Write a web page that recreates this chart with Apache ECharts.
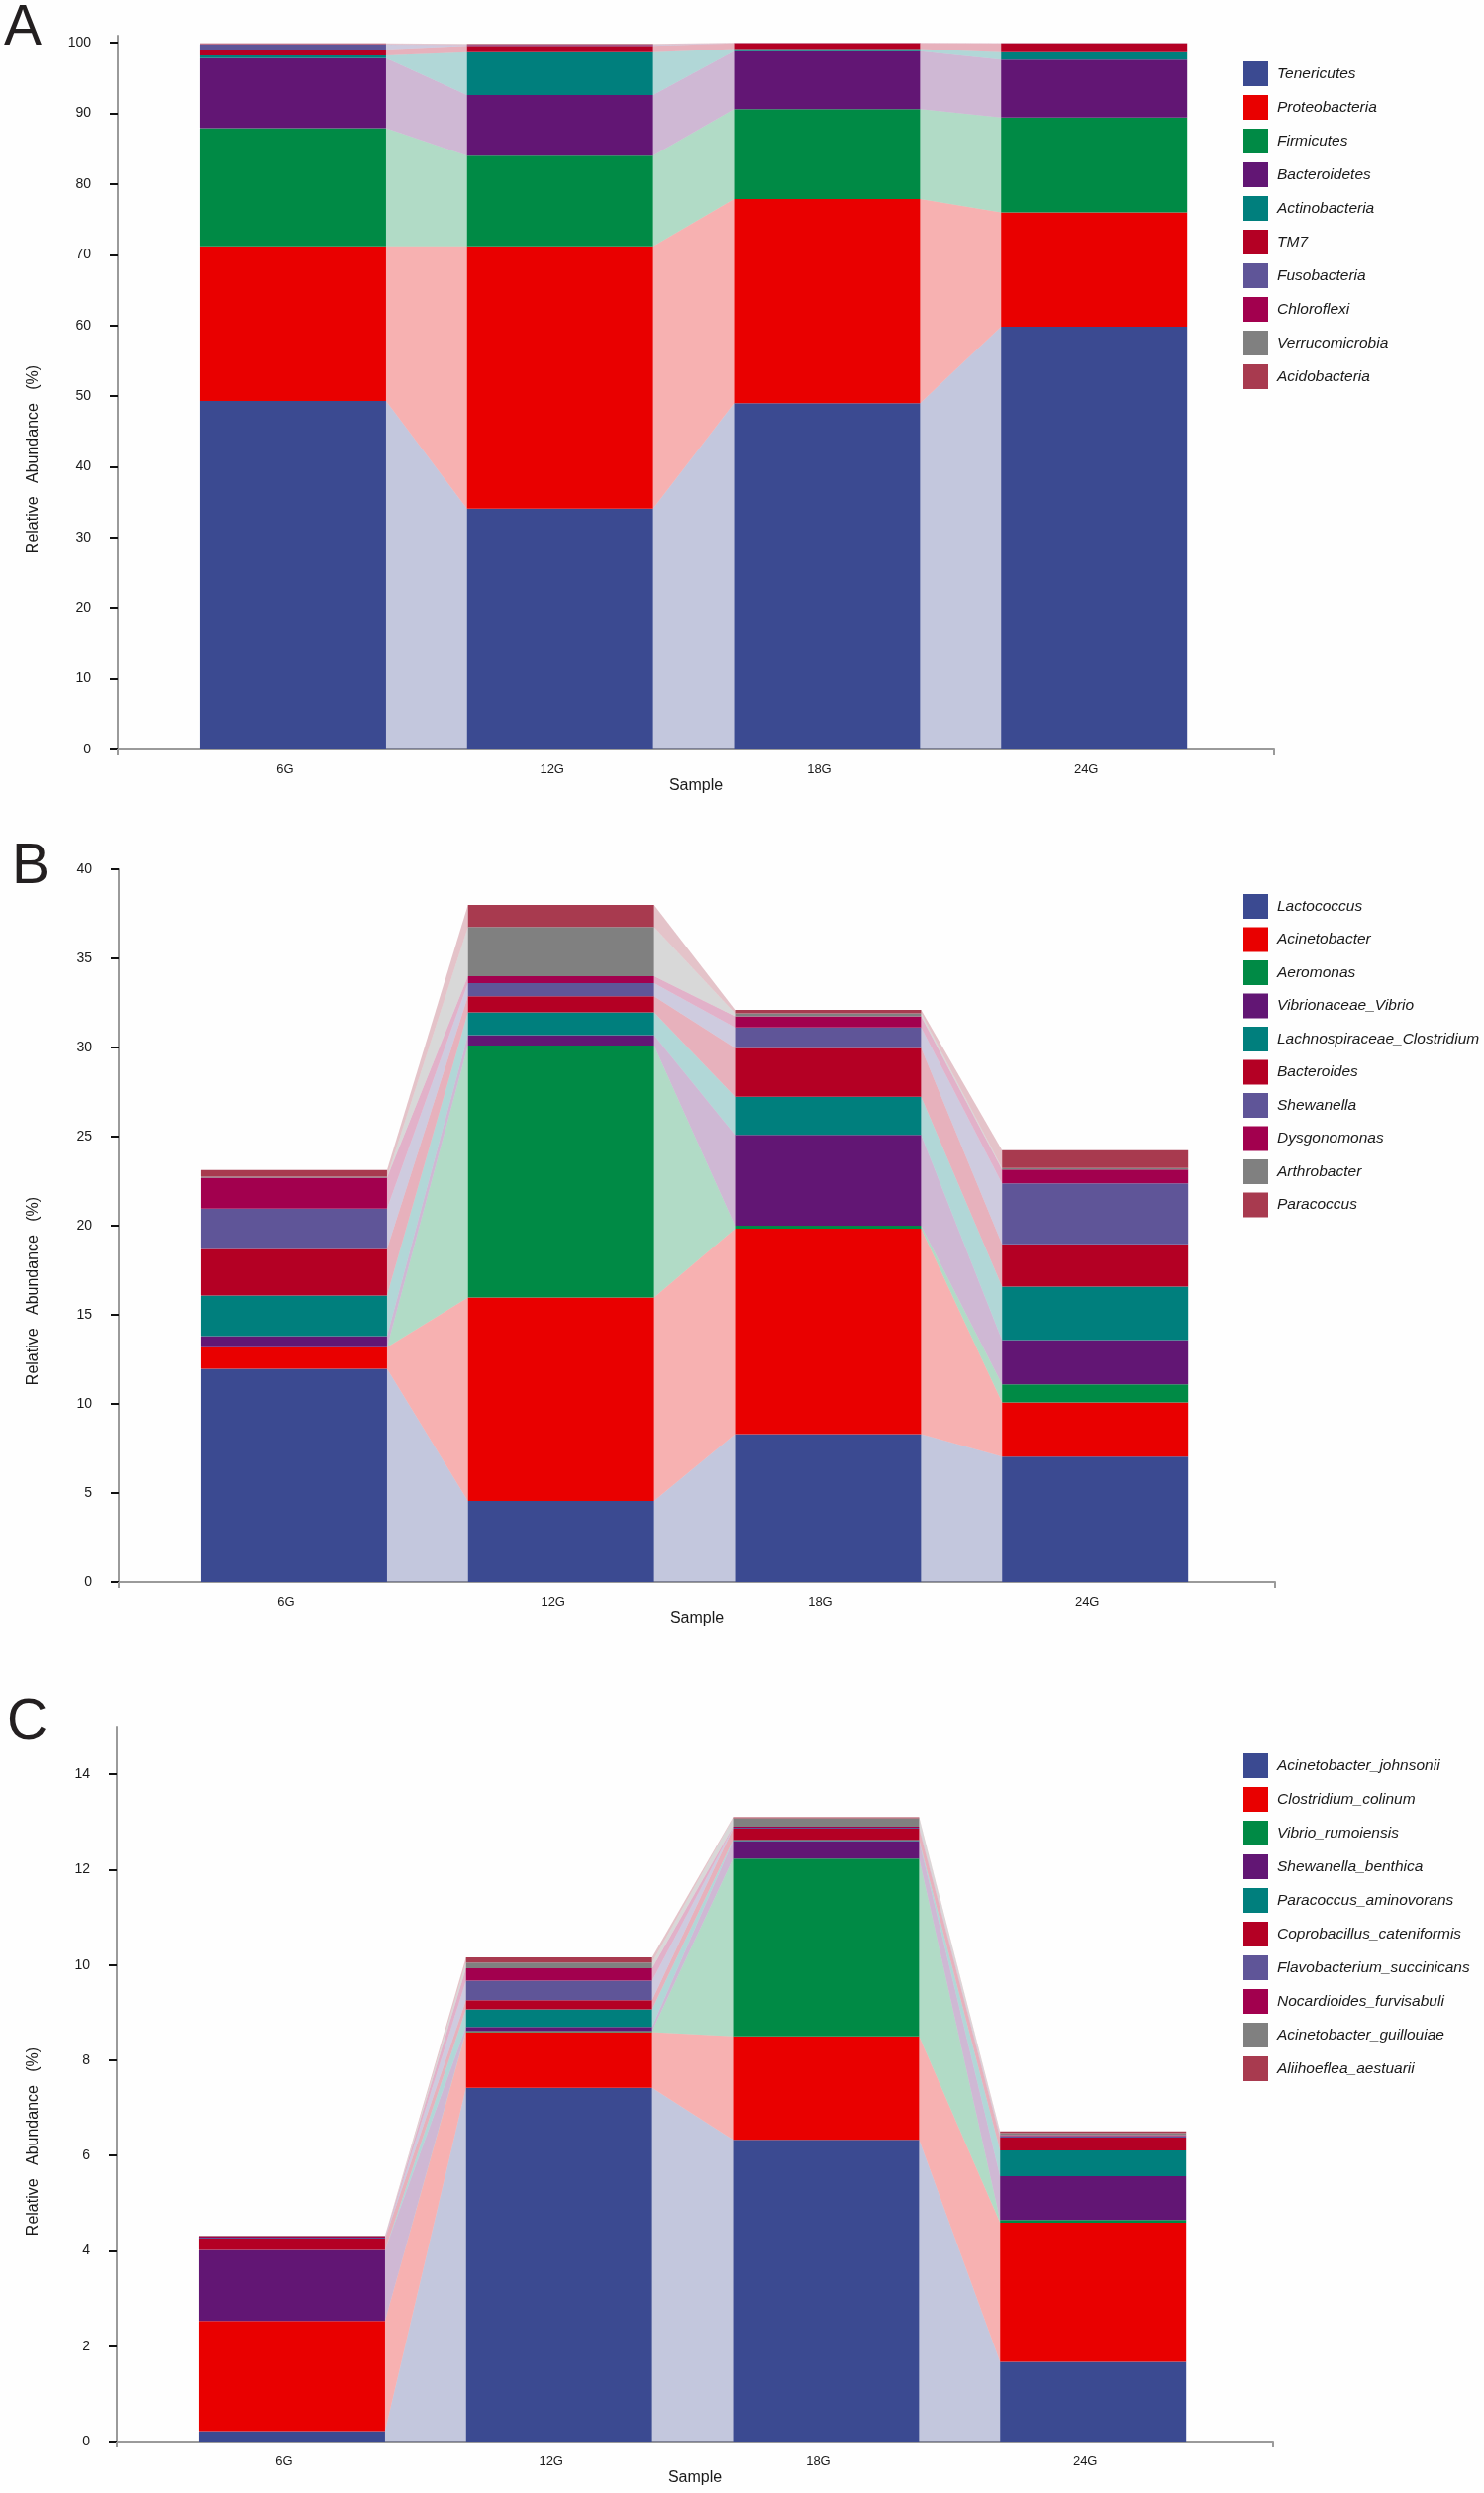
<!DOCTYPE html>
<html>
<head>
<meta charset="utf-8">
<script src="https://cdn.jsdelivr.net/npm/echarts@6/dist/echarts.min.js"></script>
<style>
html,body{margin:0;padding:0;background:#fefefe;}
#chart{width:1499px;height:2518px;}
</style>
</head>
<body>
<div id="chart"></div>
<script>
// ---------- DATA ----------
const samples = ['6G', '12G', '18G', '24G'];

const phylumNames = ['Tenericutes', 'Proteobacteria', 'Firmicutes', 'Bacteroidetes', 'Actinobacteria', 'TM7', 'Fusobacteria', 'Chloroflexi', 'Verrucomicrobia', 'Acidobacteria'];
const phylum6G  = [49.3, 21.9, 16.7, 9.9, 0.4, 0.85, 0.7, 0.05, 0.05, 0.05];
const phylum12G = [34.06, 37.15, 12.8, 8.57, 6.06, 0.94, 0.1, 0.05, 0.05, 0.05];
const phylum18G = [49.0, 28.9, 12.7, 8.2, 0.3, 0.8, 0.02, 0.02, 0.02, 0.02];
const phylum24G = [59.8, 16.2, 13.4, 8.2, 1.07, 1.2, 0.02, 0.02, 0.02, 0.02];

const genusNames = ['Lactococcus', 'Acinetobacter', 'Aeromonas', 'Vibrionaceae_Vibrio', 'Lachnospiraceae_Clostridium', 'Bacteroides', 'Shewanella', 'Dysgonomonas', 'Arthrobacter', 'Paracoccus'];
const genus6G  = [11.97, 1.21, 0, 0.62, 2.28, 2.62, 2.26, 1.74, 0.05, 0.38];
const genus12G = [4.56, 11.41, 14.14, 0.59, 1.27, 0.9, 0.74, 0.39, 2.76, 1.24];
const genus18G = [8.31, 11.52, 0.17, 5.1, 2.14, 2.73, 1.16, 0.62, 0.17, 0.19];
const genus24G = [7.04, 3.04, 1.02, 2.48, 3.01, 2.37, 3.41, 0.78, 0.09, 0.99];

const speciesNames = ['Acinetobacter_johnsonii', 'Clostridium_colinum', 'Vibrio_rumoiensis', 'Shewanella_benthica', 'Paracoccus_aminovorans', 'Coprobacillus_cateniformis', 'Flavobacterium_succinicans', 'Nocardioides_furvisabuli', 'Acinetobacter_guillouiae', 'Aliihoeflea_aestuarii'];
const species6G  = [0.22, 2.31, 0, 1.49, 0, 0.24, 0.02, 0.02, 0.01, 0.01];
const species12G = [7.42, 1.17, 0.02, 0.09, 0.37, 0.19, 0.41, 0.26, 0.12, 0.11];
const species18G = [6.33, 2.17, 3.73, 0.37, 0.02, 0.24, 0.02, 0.02, 0.18, 0.02];
const species24G = [1.67, 2.92, 0.06, 0.92, 0.54, 0.27, 0.03, 0.02, 0.04, 0.04];

const yTicksA = [0, 10, 20, 30, 40, 50, 60, 70, 80, 90, 100];
const yTicksB = [0, 5, 10, 15, 20, 25, 30, 35, 40];
const yTicksC = [0, 2, 4, 6, 8, 10, 12, 14];

const palette = ['#3B4A91', '#E90000', '#008A45', '#621674', '#007F7D', '#B40024', '#5F5598', '#A2004E', '#808080', '#A83A4F'];

// ---------- LAYOUT ----------
const HALF = 0.3485;
const XMIN = -0.656, XMAX = 3.674;
const FONT = '"Liberation Sans", Arial, Helvetica, sans-serif';

const panels = [
  { names: phylumNames, values: [phylum6G, phylum12G, phylum18G, phylum24G], ticks: yTicksA, yMax: 101,
    grid: {left: 119, top: 36, width: 1168, height: 721}, legendTop: 57, legendGap: 9,
    letter: 'A', letterPos: [4, 34], namePos: [34, 464] },
  { names: genusNames, values: [genus6G, genus12G, genus18G, genus24G], ticks: yTicksB, yMax: 40,
    grid: {left: 120, top: 878, width: 1168, height: 720}, legendTop: 898, legendGap: 8.5,
    letter: 'B', letterPos: [12, 881], namePos: [34, 1304] },
  { names: speciesNames, values: [species6G, species12G, species18G, species24G], ticks: yTicksC, yMax: 15,
    grid: {left: 118, top: 1744, width: 1168, height: 722}, legendTop: 1766, legendGap: 9,
    letter: 'C', letterPos: [7, 1745], namePos: [34, 2163] }
];

const option = {
  animation: false,
  backgroundColor: '#fefefe',
  textStyle: {fontFamily: FONT},
  grid: [], xAxis: [], yAxis: [], legend: [], series: [], graphic: []
};

panels.forEach((p, pi) => {
  option.grid.push(Object.assign({containLabel: false}, p.grid));
  option.xAxis.push({
    type: 'value', gridIndex: pi, min: XMIN, max: XMAX,
    name: 'Sample', nameLocation: 'middle', nameGap: 29,
    nameTextStyle: {fontSize: 16, color: '#1a1a1a', fontFamily: FONT},
    splitLine: {show: false},
    axisLine: {show: true, onZero: false, lineStyle: {color: '#9a9a9a', width: 2}},
    axisTick: {show: true, customValues: [XMIN, XMAX], length: 6, lineStyle: {color: '#9a9a9a', width: 2}},
    axisLabel: {customValues: [0, 1, 2, 3], formatter: v => samples[Math.round(v)] || '',
      fontSize: 13, color: '#1a1a1a', margin: 14, padding: [0, 16, 0, 0], fontFamily: FONT}
  });
  option.yAxis.push({
    type: 'value', gridIndex: pi, min: 0, max: p.yMax,
    splitLine: {show: false},
    axisLine: {show: true, onZero: false, lineStyle: {color: '#9a9a9a', width: 2}},
    axisTick: {show: true, customValues: p.ticks, length: 8, lineStyle: {color: '#111', width: 2}},
    axisLabel: {customValues: p.ticks, fontSize: 14, color: '#1a1a1a', margin: 27, fontFamily: FONT,
      formatter: v => (p.ticks.indexOf(v) >= 0 ? String(v) : '')}
  });
  option.legend.push({
    data: p.names, orient: 'vertical', left: 1251, top: p.legendTop,
    itemWidth: 25, itemHeight: 25, itemGap: p.legendGap, icon: 'rect',
    textStyle: {fontSize: 15.5, fontStyle: 'italic', color: '#1a1a1a', fontFamily: FONT, padding: [0, 0, 0, 4]}
  });
  option.graphic.push({
    type: 'text', left: p.letterPos[0], top: p.letterPos[1] - 33,
    style: {text: p.letter, fontSize: 57, fill: '#231f20', fontFamily: FONT}
  });
  option.graphic.push({
    type: 'text', x: p.namePos[0], y: p.namePos[1], rotation: Math.PI / 2,
    style: {text: 'Relative   Abundance   (%)', fontSize: 16, fill: '#1a1a1a', fontFamily: FONT,
      textAlign: 'center', textVerticalAlign: 'middle'}
  });

  // stacked bottoms/tops per taxon
  p.names.forEach((name, k) => {
    const stack = p.values.map(vals => {
      let b = 0;
      for (let j = 0; j < k; j++) b += vals[j];
      return [b, b + vals[k]];
    });
    const color = palette[k];
    option.series.push({
      type: 'custom', name: name, xAxisIndex: pi, yAxisIndex: pi,
      itemStyle: {color: color},
      encode: {x: 0, y: [1, 2]},
      data: stack.map((s, i) => [i, s[0], s[1]]),
      renderItem: function (params, api) {
        const i = api.value(0);
        const b = api.value(1), t = api.value(2);
        const children = [];
        if (i < stack.length - 1) {
          const nb = stack[i + 1][0], nt = stack[i + 1][1];
          if (t - b > 0 || nt - nb > 0) {
            children.push({
              type: 'polygon',
              shape: {points: [api.coord([i + HALF, t]), api.coord([i + HALF, b]),
                               api.coord([i + 1 - HALF, nb]), api.coord([i + 1 - HALF, nt])]},
              style: {fill: color, opacity: 0.3}
            });
          }
        }
        if (t - b > 0) {
          const tl = api.coord([i - HALF, t]);
          const br = api.coord([i + HALF, b]);
          children.push({
            type: 'rect',
            shape: {x: tl[0], y: tl[1], width: br[0] - tl[0], height: br[1] - tl[1]},
            style: {fill: color}
          });
        }
        return {type: 'group', children: children};
      }
    });
  });
});

const chart = echarts.init(document.getElementById('chart'), null, {renderer: 'canvas'});
chart.setOption(option);
</script>
</body>
</html>
